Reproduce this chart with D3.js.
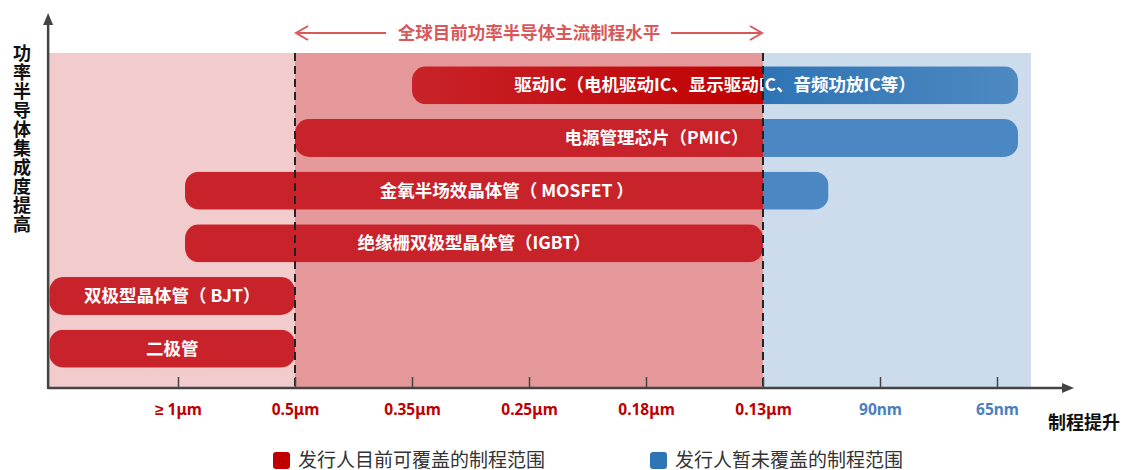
<!DOCTYPE html>
<html><head><meta charset="utf-8">
<script src="https://cdn.jsdelivr.net/npm/d3@7"></script>
<style>
html,body{margin:0;padding:0;background:#fff;}
svg{display:block;font-family:"Noto Sans CJK SC","Noto Sans",sans-serif;}
</style></head>
<body>
<svg id="c" width="1123" height="470"></svg>
<script>
// ---- data ----
const tickLabels = ["≥ 1μm","0.5μm","0.35μm","0.25μm","0.18μm","0.13μm","90nm","65nm"];
const coveredLimit = 5;          // index of 0.13μm : issuer covers up to here
const mainstreamRange = [1, 5];  // global mainstream process range (0.5μm – 0.13μm)
const categories = [
  "驱动IC（电机驱动IC、显示驱动IC、音频功放IC等）",
  "电源管理芯片（PMIC）",
  "金氧半场效晶体管（ MOSFET ）",
  "绝缘栅双极型晶体管（IGBT）",
  "双极型晶体管（ BJT）",
  "二极管"
];
const barStart = [2.0, 1.0, 0.06, 0.06, -1.1, -1.1];
const barEnd   = [7.18, 7.18, 5.56, 5.0, 1.0, 1.0];
const axisDomain = [-1.11, 7.29];
const legendLabels = ["发行人目前可覆盖的制程范围","发行人暂未覆盖的制程范围"];
const yTitle = "功率半导体集成度提高";
const xTitle = "制程提升";
const topTitle = "全球目前功率半导体主流制程水平";

// ---- colors ----
const RED = "#c8232a", BLUE = "#4b87c2";
const BG_L = "#f2cbcc", BG_M = "#e49899", BG_R = "#ccdcec";

const svg = d3.select("#c");
const x = d3.scaleLinear().domain([0, 7]).range([178, 997]);
const y = d3.scaleBand().domain(categories).range([59, 375]).paddingInner(0.28).paddingOuter(0.14);
const plotTop = 53, plotBottom = 388;
const x0 = x(axisDomain[0]), xEnd = x(axisDomain[1]);

const defs = svg.append("defs");
const gradR = defs.append("linearGradient").attr("id","gr").attr("x1","0").attr("x2","1");
gradR.append("stop").attr("offset","0").attr("stop-color","#c8232a");
gradR.append("stop").attr("offset","1").attr("stop-color","#c00000");
const gradB = defs.append("linearGradient").attr("id","gb").attr("x1","0").attr("x2","1");
gradB.append("stop").attr("offset","0").attr("stop-color","#2e74b5");
gradB.append("stop").attr("offset","1").attr("stop-color","#4e89c1");

// backgrounds
svg.append("rect").attr("x", x0).attr("y", plotTop).attr("width", x(mainstreamRange[0]) - x0).attr("height", plotBottom - plotTop).attr("fill", BG_L);
svg.append("rect").attr("x", x(mainstreamRange[0])).attr("y", plotTop).attr("width", x(mainstreamRange[1]) - x(mainstreamRange[0])).attr("height", plotBottom - plotTop).attr("fill", BG_M);
svg.append("rect").attr("x", x(mainstreamRange[1])).attr("y", plotTop).attr("width", xEnd - x(mainstreamRange[1])).attr("height", plotBottom - plotTop).attr("fill", BG_R);

// bars
const bars = svg.append("g");
categories.forEach((c, i) => {
  const xs = x(barStart[i]), xe = x(barEnd[i]);
  const yy = y(c), h = y.bandwidth();
  const cid = "clip" + i;
  defs.append("clipPath").attr("id", cid).append("rect")
    .attr("x", xs).attr("y", yy).attr("width", xe - xs).attr("height", h).attr("rx", 14).attr("ry", 14);
  const g = bars.append("g").attr("clip-path", `url(#${cid})`);
  const xc = x(coveredLimit);
  const redEnd = Math.min(xe, xc);
  g.append("rect").attr("x", xs).attr("y", yy).attr("width", redEnd - xs).attr("height", h)
    .attr("fill", i === 0 ? "url(#gr)" : RED);
  if (xe > xc) {
    g.append("rect").attr("x", xc).attr("y", yy).attr("width", xe - xc).attr("height", h)
      .attr("fill", i === 0 ? "url(#gb)" : BLUE);
  }
  bars.append("text").attr("x", (xs + xe) / 2).attr("y", yy + h / 2).attr("dy", "0.35em")
    .attr("text-anchor", "middle").attr("fill", "#fff").attr("font-size", 17.5).attr("font-weight", 700)
    .text(c);
});

// dashed lines
mainstreamRange.forEach(v => {
  svg.append("line").attr("x1", x(v)).attr("x2", x(v)).attr("y1", plotTop).attr("y2", plotBottom)
    .attr("stroke", "#222").attr("stroke-width", 2).attr("stroke-dasharray", "8,5");
});

// x axis
const ax = svg.append("g").attr("transform", `translate(0,${plotBottom})`);
ax.append("line").attr("x1", x0).attr("x2", 1066).attr("y1", 0).attr("y2", 0).attr("stroke", "#444").attr("stroke-width", 2.5);
ax.append("path").attr("d", "M1074,0 L1062,-5 L1062,5 Z").attr("fill", "#444");
const xAxis = d3.axisBottom(x).tickValues(d3.range(tickLabels.length)).tickFormat(i => tickLabels[i]).tickSize(0).tickPadding(0);
const xa = svg.append("g").attr("transform", `translate(0,${plotBottom})`).call(xAxis);
xa.select(".domain").remove();
xa.selectAll(".tick").append("line").attr("y1", -11).attr("y2", 0).attr("stroke", "#444").attr("stroke-width", 1.5);
xa.selectAll(".tick text").attr("y", 22).attr("dy", "0.35em").attr("font-size", 15.5).attr("font-weight", 700)
  .attr("font-family", '"Noto Sans", "Liberation Sans", sans-serif')
  .attr("fill", (d) => d <= coveredLimit ? "#c00000" : "#4a7fbf");

// y axis
svg.append("line").attr("x1", x0).attr("x2", x0).attr("y1", plotBottom + 1).attr("y2", 22).attr("stroke", "#444").attr("stroke-width", 2.5);
svg.append("path").attr("d", `M${x0},13 L${x0 - 5},25 L${x0 + 5},25 Z`).attr("fill", "#444");

// y title (vertical chars)
const yt = svg.append("text").attr("font-size", 18).attr("font-weight", 700).attr("fill", "#111").attr("text-anchor", "middle");
yTitle.split("").forEach((ch, i) => {
  yt.append("tspan").attr("x", 22).attr("y", 60 + i * 19).text(ch);
});

// x title
svg.append("text").attr("x", 1084).attr("y", 423).attr("dy", "0.35em").attr("text-anchor", "middle")
  .attr("font-size", 18).attr("font-weight", 700).attr("fill", "#111").text(xTitle);

// top title with arrows
const tc = (x(mainstreamRange[0]) + x(mainstreamRange[1])) / 2;
const ty = 33;
const ACol = "#d9595b";
svg.append("text").attr("x", tc).attr("y", ty).attr("dy", "0.35em").attr("text-anchor", "middle")
  .attr("font-size", 17.5).attr("font-weight", 700).attr("fill", ACol).text(topTitle);
const xl = x(mainstreamRange[0]) + 1, xr = x(mainstreamRange[1]) - 1;
svg.append("line").attr("x1", xl + 2).attr("x2", 386).attr("y1", ty).attr("y2", ty).attr("stroke", ACol).attr("stroke-width", 2);
svg.append("line").attr("x1", 671).attr("x2", xr - 2).attr("y1", ty).attr("y2", ty).attr("stroke", ACol).attr("stroke-width", 2);
svg.append("path").attr("d", `M${xl + 12},${ty - 7} L${xl},${ty} L${xl + 12},${ty + 7}`).attr("fill", "none").attr("stroke", ACol).attr("stroke-width", 2);
svg.append("path").attr("d", `M${xr - 12},${ty - 7} L${xr},${ty} L${xr - 12},${ty + 7}`).attr("fill", "none").attr("stroke", ACol).attr("stroke-width", 2);

// legend
const legColors = ["#c00000", "#2e75b6"];
const legX = [273, 650];
legendLabels.forEach((l, i) => {
  const g = svg.append("g").attr("transform", `translate(${legX[i]},452)`);
  g.append("rect").attr("width", 17).attr("height", 17).attr("rx", 3).attr("fill", legColors[i]);
  g.append("text").attr("x", 25).attr("y", 8.5).attr("dy", "0.35em").attr("font-size", 19).attr("fill", "#333").text(l);
});
</script>
</body></html>
